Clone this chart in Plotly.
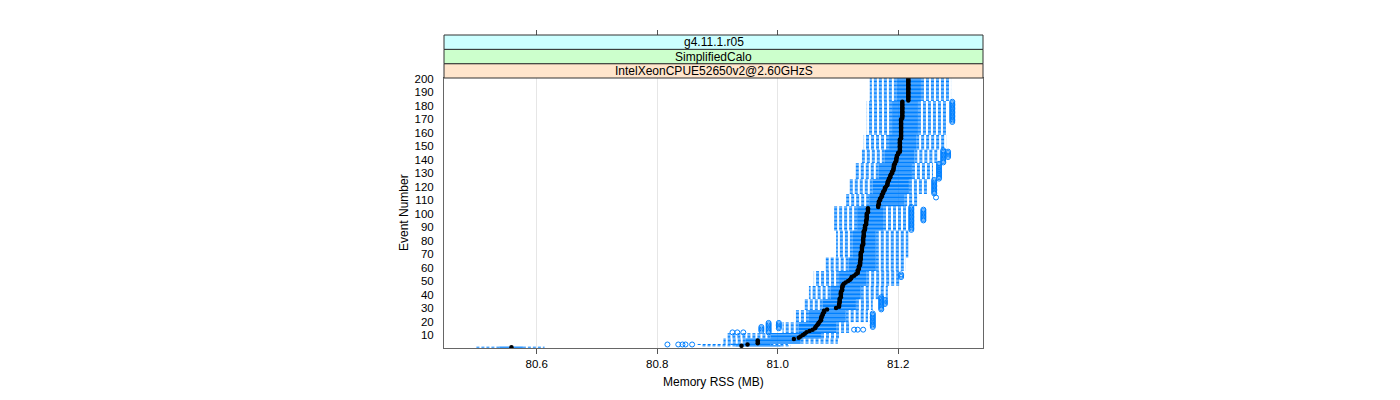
import plotly.graph_objects as go

# ---------------- data ----------------
n_events = 200
y_ticks = list(range(10, 201, 10))
x_ticks = [80.6, 80.8, 81.0, 81.2]
strip_labels = ["IntelXeonCPUE52650v2@2.60GHzS", "SimplifiedCalo", "g4.11.1.r05"]
strip_colors = ["#ffe5cc", "#ccffcc", "#ccffff"]

# box/whisker statistics, constant over blocks of events
blk_first = [1, 2, 3, 4, 8, 12, 20, 29, 37, 47, 58, 68, 88, 106, 115, 126, 138, 148, 159, 184]
blk_last = [1, 2, 3, 7, 11, 19, 28, 36, 46, 57, 67, 87, 105, 114, 125, 137, 147, 158, 183, 200]
blk_lo = [80.497, 80.872, 80.867, 80.910, 80.917, 81.008, 81.027, 81.043, 81.052, 81.060,
          81.080, 81.097, 81.093, 81.112, 81.117, 81.127, 81.140, 81.143, 81.148, 81.153]
blk_q1 = [80.538, 80.930, 80.922, 80.947, 80.988, 81.035, 81.052, 81.075, 81.088, 81.102,
          81.118, 81.125, 81.132, 81.152, 81.158, 81.168, 81.178, 81.185, 81.190, 81.198]
blk_q3 = [80.577, 81.005, 80.988, 81.038, 81.072, 81.097, 81.113, 81.130, 81.138, 81.147,
          81.163, 81.163, 81.175, 81.210, 81.218, 81.223, 81.227, 81.230, 81.233, 81.238]
blk_hi = [80.613, 81.022, 81.017, 81.100, 81.105, 81.122, 81.150, 81.158, 81.183, 81.202,
          81.213, 81.217, 81.217, 81.235, 81.250, 81.258, 81.265, 81.280, 81.280, 81.288]

# median per event (1..200)
median = (
    [80.558, 80.940, 80.950, 80.967, 80.967, 80.967, 81.027,
     81.035, 81.038, 81.042, 81.045, 81.048, 81.053, 81.058,
     81.062, 81.063, 81.065, 81.067, 81.068, 81.070, 81.072, 81.072, 81.073, 81.073,
     81.075, 81.075, 81.077, 81.077,
     81.082, 81.097,
     81.102, 81.102, 81.102, 81.103, 81.103, 81.103, 81.103, 81.105, 81.105, 81.105, 81.105,
     81.105, 81.107, 81.107, 81.107, 81.108, 81.108, 81.110, 81.113, 81.117, 81.120, 81.122,
     81.123, 81.127, 81.130, 81.133,
     81.133, 81.133, 81.135, 81.135, 81.135, 81.137, 81.137, 81.137, 81.137, 81.138,
     81.138, 81.138, 81.138, 81.138,
     81.138, 81.140, 81.140, 81.140, 81.140, 81.140, 81.142, 81.142, 81.142, 81.142,
     81.142, 81.142, 81.143, 81.143, 81.143,
     81.143, 81.143, 81.145, 81.145, 81.145, 81.145, 81.147, 81.147, 81.147, 81.147,
     81.148, 81.148, 81.148, 81.148, 81.148, 81.150, 81.150, 81.150, 81.150,
     81.167, 81.167, 81.168, 81.168, 81.168, 81.170, 81.170, 81.172,
     81.173, 81.173, 81.175, 81.175, 81.177, 81.178, 81.178, 81.180,
     81.182, 81.182, 81.183, 81.183, 81.185, 81.185, 81.187, 81.187, 81.188, 81.190,
     81.190, 81.192, 81.192, 81.193, 81.193, 81.193, 81.195, 81.195, 81.197, 81.197,
     81.197, 81.198, 81.198, 81.200, 81.200]
    + [81.203] * 10 + [81.205] * 15 + [81.207] * 13 + [81.217] * 17
)

# outliers: (first event, last event, value)
out_first = [3, 3, 3, 3, 3, 12, 12, 12, 12, 13, 15, 14, 14, 14, 16, 29, 33,
             53, 88, 95, 112, 115, 126, 138, 142, 168]
out_last = [3, 3, 3, 3, 3, 12, 12, 12, 19, 16, 19, 14, 14, 14, 26, 38, 36,
            55, 105, 103, 112, 125, 137, 147, 146, 183]
out_value = [80.817, 80.835, 80.842, 80.847, 80.858, 80.925, 80.933, 80.943, 80.985, 80.973,
             81.002, 81.127, 81.133, 81.142, 81.158, 81.172, 81.178,
             81.205, 81.222, 81.242, 81.263, 81.260, 81.268, 81.275, 81.283, 81.290]

# ---------------- expand to per-event arrays ----------------
lo, q1, q3, hi = {}, {}, {}, {}
for f, l, a, b, c, d in zip(blk_first, blk_last, blk_lo, blk_q1, blk_q3, blk_hi):
    for e in range(f, l + 1):
        lo[e], q1[e], q3[e], hi[e] = a, b, c, d
events = list(range(1, n_events + 1))

box_x, box_y, wh_x, wh_y = [], [], [], []
for e in events:
    box_x += [q1[e], q3[e], None]
    box_y += [e, e, None]
    wh_x += [q1[e], lo[e], None, q3[e], hi[e], None]
    wh_y += [e, e, None, e, e, None]

ox, oy = [], []
for f, l, v in zip(out_first, out_last, out_value):
    for e in range(f, l + 1):
        ox.append(v)
        oy.append(e)

BLUE = "#0080ff"
fig = go.Figure()
fig.add_trace(go.Scatter(x=wh_x, y=wh_y, mode="lines", hoverinfo="skip",
                         line=dict(color=BLUE, width=1, dash="3px,2px")))
fig.add_trace(go.Scatter(x=box_x, y=box_y, mode="lines", hoverinfo="skip",
                         line=dict(color=BLUE, width=1.25)))
fig.add_trace(go.Scatter(x=ox, y=oy, mode="markers",
                         marker=dict(symbol="circle-open", size=5, color=BLUE,
                                     line=dict(width=1, color=BLUE))))
fig.add_trace(go.Scatter(x=median, y=events, mode="markers",
                         marker=dict(symbol="circle", size=4.5, color="black")))
# invisible trace for the top tick axis
fig.add_trace(go.Scatter(x=[x_ticks[0]], y=[1], xaxis="x2", mode="markers",
                         marker=dict(opacity=0), hoverinfo="skip"))

panel_top = 270 / 313
xr = [80.446, 81.341]
fig.update_layout(
    width=1400, height=400,
    margin=dict(l=444, r=417, t=35, b=52),
    paper_bgcolor="white", plot_bgcolor="white",
    showlegend=False,
    font=dict(family="Liberation Sans, Arial, sans-serif", size=12, color="black"),
    xaxis=dict(range=xr, tickvals=x_ticks, ticktext=["80.6", "80.8", "81.0", "81.2"],
               showgrid=True, gridcolor="#e6e6e6", gridwidth=1, zeroline=False,
               showline=True, linecolor="#666666", linewidth=1, mirror=True,
               ticks="outside", ticklen=5, tickcolor="#555555",
               tickfont=dict(size=11.5)),
    xaxis2=dict(range=xr, tickvals=x_ticks, overlaying="x", side="top", anchor="free",
                position=1.0, showticklabels=False, ticks="outside", ticklen=5,
                tickcolor="#555555", showgrid=False, zeroline=False, showline=False),
    yaxis=dict(range=[0.4, 200.6], domain=[0, panel_top], tickvals=y_ticks,
               showgrid=False, zeroline=False, showline=True, linecolor="#666666",
               linewidth=1, mirror=True, ticks="", ticklabelstandoff=7,
               tickfont=dict(size=11.5)),
)

# strips
h = (1 - panel_top) / 3
for i, (lab, col) in enumerate(zip(strip_labels, strip_colors)):
    y0 = panel_top + i * h
    fig.add_shape(type="rect", xref="paper", yref="paper", x0=0, x1=1, y0=y0, y1=y0 + h,
                  fillcolor=col, line=dict(color="#333333", width=1), layer="above")
    fig.add_annotation(xref="paper", yref="paper", x=0.5, y=y0 + h / 2, text=lab,
                       showarrow=False, font=dict(size=12), yanchor="middle")

fig.add_annotation(xref="paper", yref="paper", x=0.5, y=-0.1086, text="Memory RSS (MB)",
                   showarrow=False, font=dict(size=12), yanchor="middle")
fig.add_annotation(xref="paper", yref="paper", x=-0.0742, y=0.4313, text="Event Number",
                   showarrow=False, font=dict(size=12), textangle=-90,
                   xanchor="center", yanchor="middle")

fig.write_html("out.html", config={"displayModeBar": False},
               post_script="document.body.style.margin='0';document.body.style.overflow='hidden';")
